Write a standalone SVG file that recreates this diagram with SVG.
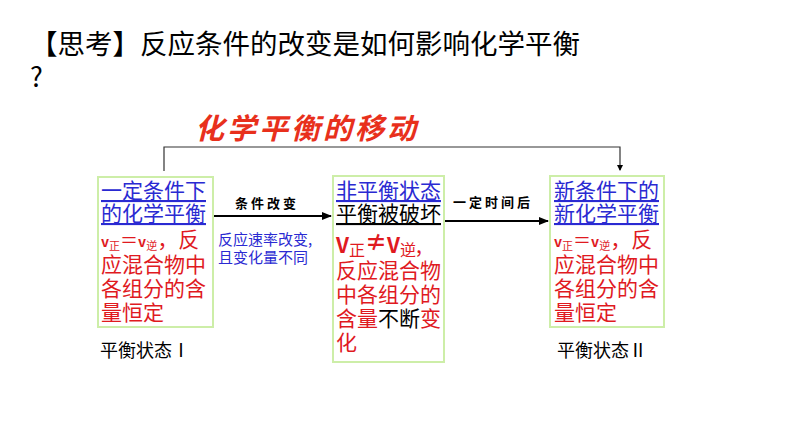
<svg xmlns="http://www.w3.org/2000/svg" width="794" height="447" viewBox="0 0 794 447">
<defs>
<style>
text{font-family:"Noto Sans CJK SC","Liberation Sans",sans-serif;}
.box{fill:#fff;stroke:#cdeea8;stroke-width:2;}
.blue{fill:#2a2ad2;font-size:21px;text-decoration:underline;}
.blk{fill:#000;font-size:21px;text-decoration:underline;}
.red{fill:#e01a1f;font-size:21px;}
.lab{fill:#000;font-size:18px;}
.note{fill:#2a2ad2;font-size:15px;}
.arrl{fill:#000;font-size:13px;font-weight:bold;letter-spacing:3px;}
.ln{stroke:#000;stroke-width:2;fill:none;}
</style>
<marker id="ah" markerWidth="10" markerHeight="8" refX="9" refY="4" orient="auto" markerUnits="userSpaceOnUse">
<path d="M0,0 L10,4 L0,8 Z" fill="#000"/>
</marker>
<marker id="ahs" markerWidth="6" markerHeight="6" refX="5" refY="3" orient="auto" markerUnits="userSpaceOnUse">
<path d="M0,0 L6,3 L0,6 Z" fill="#000"/>
</marker>
</defs>
<rect width="794" height="447" fill="#fff"/>
<g id="heading">
<text x="30" y="54" font-size="27.5" fill="#000">【思考】反应条件的改变是如何影响化学平衡</text>
<text x="30" y="87" font-size="27" fill="#000">?</text>
</g>
<g id="title">
<text x="195" y="139" font-size="29" font-weight="bold" fill="#e8301c" letter-spacing="3" font-style="italic">化学平衡的移动</text>
</g>
<g id="connectors">
<path d="M164,171 V147 H620 V170" stroke="#333" stroke-width="1.2" fill="none" marker-end="url(#ahs)"/>
<line x1="213" y1="216" x2="331" y2="216" class="ln" marker-end="url(#ah)"/>
<line x1="444" y1="221" x2="548" y2="221" class="ln" marker-end="url(#ah)"/>
<text x="267" y="208" class="arrl" text-anchor="middle">条件改变</text>
<text x="493" y="207" class="arrl" text-anchor="middle">一定时间后</text>
<text x="218" y="245" class="note">反应速率改变,</text>
<text x="218" y="263" class="note">且变化量不同</text>
</g>
<g id="state1">
<rect x="98" y="177" width="115" height="150" class="box"/>
<text x="101" y="198" class="blue">一定条件下</text>
<text x="101" y="221" class="blue">的化学平衡</text>
<text x="101" y="247" class="red"><tspan font-size="14" font-weight="bold">v</tspan><tspan font-size="11" dy="3">正</tspan><tspan font-size="18" dy="-3">＝</tspan><tspan font-size="14" font-weight="bold">v</tspan><tspan font-size="11" dy="3">逆</tspan><tspan dy="-3">，反</tspan></text>
<text x="101" y="272" class="red">应混合物中</text>
<text x="101" y="296" class="red">各组分的含</text>
<text x="101" y="320" class="red">量恒定</text>
<text x="100" y="357" class="lab">平衡状态Ⅰ</text>
</g>
<g id="state-mid">
<rect x="333" y="176" width="111" height="186" class="box"/>
<text x="336" y="198" class="blue">非平衡状态</text>
<text x="336" y="221" class="blk">平衡被破坏</text>
<text x="336" y="253" class="red"><tspan font-size="21" font-weight="bold">V</tspan><tspan font-size="16" dy="3">正</tspan><tspan font-size="22" font-weight="bold" dy="-6">≠</tspan><tspan font-size="21" font-weight="bold" dy="3">V</tspan><tspan font-size="16" dy="3">逆</tspan><tspan dy="-3">,</tspan></text>
<text x="336" y="278" class="red">反应混合物</text>
<text x="336" y="302" class="red">中各组分的</text>
<text x="336" y="326" class="red">含量<tspan fill="#000">不断</tspan>变</text>
<text x="336" y="350" class="red">化</text>
</g>
<g id="state2">
<rect x="550" y="176" width="114" height="151" class="box"/>
<text x="554" y="198" class="blue">新条件下的</text>
<text x="554" y="221" class="blue">新化学平衡</text>
<text x="554" y="247" class="red"><tspan font-size="14" font-weight="bold">v</tspan><tspan font-size="11" dy="3">正</tspan><tspan font-size="18" dy="-3">＝</tspan><tspan font-size="14" font-weight="bold">v</tspan><tspan font-size="11" dy="3">逆</tspan><tspan dy="-3">，反</tspan></text>
<text x="554" y="272" class="red">应混合物中</text>
<text x="554" y="296" class="red">各组分的含</text>
<text x="554" y="320" class="red">量恒定</text>
<text x="557" y="357" class="lab">平衡状态Ⅱ</text>
</g>
</svg>
